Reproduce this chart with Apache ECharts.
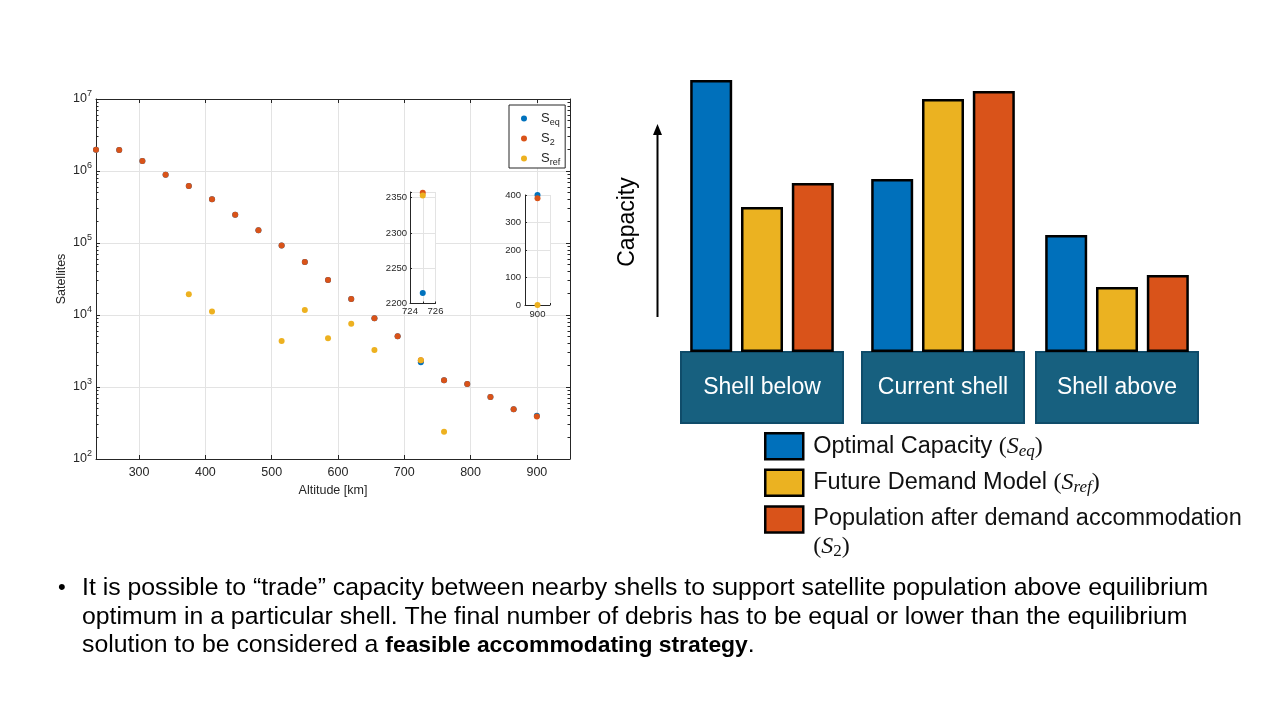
<!DOCTYPE html>
<html>
<head>
    <meta charset="UTF-8">
    <title>Shell capacity trading</title>
    <script src="https://cdn.jsdelivr.net/npm/echarts@6/dist/echarts.min.js"></script>
    <style>
        html, body { margin: 0; padding: 0; background: #fff; }
        #main { width: 1280px; height: 720px; }
    </style>
</head>
<body>
<div id="main"></div>
<script type="text/javascript">
    // shell altitudes [km]
    var altitudes = [235, 270, 305, 340, 375, 410, 445, 480, 515, 550, 585, 620, 655, 690, 725, 760, 795, 830, 865, 900];
    // equilibrium capacity S_eq
    var sEq = [1980000, 1960000, 1380000, 890000, 620000, 405000, 247000, 150000, 92000, 54500, 30600, 16700, 9000, 5060, 2215, 1240, 1100, 726, 490, 400];
    // population after accommodation S_2
    var s2 = [1980000, 1960000, 1380000, 890000, 620000, 405000, 247000, 150000, 92000, 54500, 30600, 16700, 9000, 5060, 2357, 1240, 1100, 726, 490, 388];
    // future demand S_ref (0 = no demand)
    var sRef = [0, 0, 0, 0, 19400, 11200, 0, 0, 4350, 11700, 4750, 7570, 3260, 0, 2353, 239, 0, 0, 0, 0];
    var scatterNames = ['S_eq', 'S_2', 'S_ref'];
    var insetAltitudes = [725, 900];

    // conceptual bar chart
    var shells = ['Shell below', 'Current shell', 'Shell above'];
    var optimalCapacity = [272, 173, 117];
    var futureDemand = [145, 253, 65];
    var afterAccommodation = [169, 261, 77];
    var barNames = ['Optimal Capacity', 'Future Demand Model', 'Population after demand accommodation'];
    // the newline sits inside a rich token so the second line keeps a thin line box
    var barMath = [' {p|(}{m|S}{s|eq}{p|)}', ' {p|(}{m|S}{s|ref}{p|)}', '{p2|\n(}{m2|S}{n2|2}{p2|)}'];

    var bulletLines = [
        'It is possible to \u201ctrade\u201d capacity between nearby shells to support satellite population above equilibrium',
        'optimum in a particular shell. The final number of debris has to be equal or lower than the equilibrium',
        'solution to be considered a {b|feasible accommodating strategy}.'
    ];

    var matlabColors = ['#0072BD', '#D95319', '#EDB120'];
    var barColors = ['#0070BB', '#EBB221', '#D9531A'];
    var axisColor = '#262626';
    var gridColor = '#e3e3e3';
    var sans = "'Liberation Sans', Arial, sans-serif";
    var serif = "'Liberation Serif', 'DejaVu Serif', serif";

    var scatterData = [sEq, s2, sRef];
    var barData = [optimalCapacity, futureDemand, afterAccommodation];

    // minor ticks of the log axis
    var minorTicks = [];
    for (var e = 2; e < 7; e++) {
        for (var k = 2; k <= 9; k++) minorTicks.push(k * Math.pow(10, e));
    }

    function pairs(values, keep) {
        var out = [];
        for (var i = 0; i < altitudes.length; i++) {
            if (keep(altitudes[i], values[i])) out.push([altitudes[i], values[i]]);
        }
        return out;
    }

    var myChart = echarts.init(document.getElementById('main'));

    var series = [];
    // main log plot
    for (var i = 0; i < 3; i++) {
        series.push({
            type: 'scatter', name: scatterNames[i], xAxisIndex: 0, yAxisIndex: 0,
            symbolSize: 6, itemStyle: { color: matlabColors[i], opacity: 1 },
            data: pairs(scatterData[i], function (a, v) { return v > 0; })
        });
    }
    // the two zoomed insets
    for (var n = 0; n < 2; n++) {
        for (var i = 0; i < 3; i++) {
            series.push({
                type: 'scatter', name: scatterNames[i], xAxisIndex: 2 + n, yAxisIndex: 4 + n,
                symbolSize: 6, z: 6, clip: false, itemStyle: { color: matlabColors[i], opacity: 1 },
                data: pairs(scatterData[i], (function (alt) { return function (a) { return a === alt; }; })(insetAltitudes[n]))
            });
        }
    }
    // bars, one grid per shell
    for (var g = 0; g < 3; g++) {
        for (var k = 0; k < 3; k++) {
            series.push({
                type: 'bar', name: barNames[k], xAxisIndex: 4 + g, yAxisIndex: 6 + g,
                barWidth: 42, barGap: '21%',
                itemStyle: { color: barColors[k], borderColor: '#000', borderWidth: 2.5 },
                data: [barData[k][g]]
            });
        }
    }

    var insetAxisBase = {
        type: 'value', z: 5,
        axisLine: { show: true, lineStyle: { color: axisColor } },
        axisTick: { show: true, inside: true, length: 2, lineStyle: { color: axisColor } },
        splitLine: { show: true, lineStyle: { color: gridColor } }
    };

    function barX(g) {
        return {
            gridIndex: 3 + g, type: 'category', data: [shells[g]],
            axisLine: { show: false }, axisTick: { show: false },
            axisLabel: {
                margin: 1, color: '#fff', fontSize: 23, fontFamily: sans,
                backgroundColor: '#17607F', borderColor: '#0F4C6A', borderWidth: 2,
                width: 160, height: 69, lineHeight: 69, align: 'center'
            }
        };
    }
    function barY(g) {
        return { gridIndex: 3 + g, type: 'value', min: 0, max: 300, show: false };
    }

    var option = {
        animation: false,
        grid: [
            { left: 96, top: 99, width: 474, height: 360 },
            { left: 410, top: 192, width: 25.5, height: 111.5, show: true, backgroundColor: '#fff', borderWidth: 0, z: 3 },
            { left: 525, top: 195, width: 25, height: 110, show: true, backgroundColor: '#fff', borderWidth: 0, z: 3 },
            { left: 681, top: 52, width: 162, height: 300 },
            { left: 862, top: 52, width: 162, height: 300 },
            { left: 1036, top: 52, width: 162, height: 300 }
        ],
        xAxis: [
            {
                gridIndex: 0, type: 'value', min: 235, max: 950, minInterval: 100, maxInterval: 100,
                axisLine: { lineStyle: { color: axisColor } },
                axisTick: { inside: true, length: 4, lineStyle: { color: axisColor } },
                axisLabel: { color: axisColor, fontSize: 12.5, fontFamily: sans, margin: 7, showMinLabel: false, showMaxLabel: false },
                splitLine: { show: true, lineStyle: { color: gridColor } },
                name: 'Altitude [km]', nameLocation: 'middle', nameGap: 25,
                nameTextStyle: { color: axisColor, fontSize: 12.5, fontFamily: sans }
            },
            {
                gridIndex: 0, type: 'value', position: 'top', min: 235, max: 950, minInterval: 100, maxInterval: 100,
                axisLine: { lineStyle: { color: axisColor } },
                axisTick: { inside: true, length: 4, lineStyle: { color: axisColor } },
                axisLabel: { show: false }, splitLine: { show: false }
            },
            Object.assign({}, insetAxisBase, {
                gridIndex: 1, min: 724, max: 726, minInterval: 1, maxInterval: 1,
                axisLabel: { color: axisColor, fontSize: 9.5, fontFamily: sans, margin: 3,
                    formatter: function (v) { return v === 725 ? '' : v; } }
            }),
            Object.assign({}, insetAxisBase, {
                gridIndex: 2, min: 899, max: 901, minInterval: 1, maxInterval: 1,
                axisLabel: { color: axisColor, fontSize: 9.5, fontFamily: sans, margin: 4,
                    formatter: function (v) { return v === 900 ? v : ''; } }
            }),
            barX(0), barX(1), barX(2)
        ],
        yAxis: [
            {
                gridIndex: 0, type: 'log', logBase: 10, min: 100, max: 10000000, position: 'left',
                axisLine: { show: true, lineStyle: { color: axisColor } },
                axisTick: { show: true, inside: true, length: 4, lineStyle: { color: axisColor } },
                axisLabel: {
                    color: axisColor, fontSize: 12.5, fontFamily: sans, margin: 4,
                    formatter: function (v) { return '10{sup|' + Math.round(Math.log10(v)) + '}'; },
                    rich: { sup: { fontSize: 9, fontFamily: sans, color: axisColor, padding: [0, 0, 10, 0], lineHeight: 14 } },
                    lineHeight: 14
                },
                splitLine: { show: true, lineStyle: { color: gridColor } },
                name: 'Satellites', nameLocation: 'middle', nameGap: 28,
                nameTextStyle: { color: axisColor, fontSize: 12.5, fontFamily: sans }
            },
            {
                gridIndex: 0, type: 'log', logBase: 10, min: 100, max: 10000000, position: 'left',
                axisLine: { show: false }, axisLabel: { show: false }, splitLine: { show: false },
                axisTick: { show: true, inside: true, length: 2.5, customValues: minorTicks, lineStyle: { color: axisColor } }
            },
            {
                gridIndex: 0, type: 'log', logBase: 10, min: 100, max: 10000000, position: 'right',
                axisLine: { show: true, lineStyle: { color: axisColor } },
                axisTick: { show: true, inside: true, length: 4, lineStyle: { color: axisColor } },
                axisLabel: { show: false }, splitLine: { show: false }
            },
            {
                gridIndex: 0, type: 'log', logBase: 10, min: 100, max: 10000000, position: 'right',
                axisLine: { show: false }, axisLabel: { show: false }, splitLine: { show: false },
                axisTick: { show: true, inside: true, length: 2.5, customValues: minorTicks, lineStyle: { color: axisColor } }
            },
            Object.assign({}, insetAxisBase, {
                gridIndex: 1, min: 2200, max: 2358, minInterval: 50, maxInterval: 50,
                axisLabel: { color: axisColor, fontSize: 9.5, fontFamily: sans, margin: 3,
                    formatter: function (v) { return v % 50 === 0 ? v : ''; } }
            }),
            Object.assign({}, insetAxisBase, {
                gridIndex: 2, min: 0, max: 400, minInterval: 100, maxInterval: 100,
                axisLabel: { color: axisColor, fontSize: 9.5, fontFamily: sans, margin: 4 }
            }),
            barY(0), barY(1), barY(2)
        ],
        legend: [
            {
                data: scatterNames, orient: 'vertical', left: 509, top: 105,
                padding: [5, 5, 1, 12], itemGap: 3, itemWidth: 24, itemHeight: 6, icon: 'circle',
                backgroundColor: '#fff', borderColor: axisColor, borderWidth: 1, borderRadius: 0,
                selectedMode: false,
                formatter: function (name) {
                    var p = name.split('_');
                    return '{m|' + p[0] + '}{s|' + p[1] + '}';
                },
                textStyle: {
                    rich: {
                        m: { fontSize: 13, fontFamily: sans, color: axisColor, lineHeight: 14 },
                        s: { fontSize: 9, fontFamily: sans, color: axisColor, lineHeight: 14, padding: [8, 0, 0, 0] }
                    }
                }
            },
            {
                data: barNames,
                orient: 'vertical', left: 764, top: 432, padding: 0,
                itemGap: 8, itemWidth: 38, itemHeight: 26, icon: 'rect', selectedMode: false,
                itemStyle: { borderColor: '#000', borderWidth: 2.5 },
                formatter: function (name) {
                    return name + barMath[barNames.indexOf(name)];
                },
                textStyle: {
                    fontSize: 23.5, fontFamily: sans, color: '#111', lineHeight: 28, padding: [0, 0, 0, 5],
                    rich: {
                        p: { fontSize: 24, fontFamily: serif, color: '#111', lineHeight: 28 },
                        m: { fontSize: 24, fontFamily: serif, fontStyle: 'italic', color: '#111', lineHeight: 28 },
                        s: { fontSize: 17, fontFamily: serif, fontStyle: 'italic', color: '#111', lineHeight: 28, padding: [10, 0, 0, 0] },
                        // second line of the last entry: thin line box, pushed down by padding
                        p2: { fontSize: 24, fontFamily: serif, color: '#111', lineHeight: 1, padding: [27, 0, 0, 0] },
                        m2: { fontSize: 24, fontFamily: serif, fontStyle: 'italic', color: '#111', lineHeight: 1, padding: [27, 0, 0, 0] },
                        n2: { fontSize: 17, fontFamily: serif, color: '#111', lineHeight: 1, padding: [37, 0, 0, 0] }
                    }
                }
            }
        ],
        graphic: [
            { type: 'line', shape: { x1: 657.5, y1: 317, x2: 657.5, y2: 133 }, style: { stroke: '#000', lineWidth: 2 } },
            { type: 'polygon', shape: { points: [[657.5, 124], [653, 135], [662, 135]] }, style: { fill: '#000' } },
            {
                type: 'text', x: 628, y: 222, rotation: Math.PI / 2,
                style: { text: 'Capacity', fontSize: 23, fontFamily: sans, fill: '#000', align: 'center', verticalAlign: 'middle' }
            },
            {
                type: 'text', x: 58, y: 574,
                style: { text: '\u2022', fontSize: 22, fontFamily: sans, fill: '#000', lineHeight: 28.5, verticalAlign: 'top' }
            },
            {
                type: 'text', x: 82, y: 574,
                style: {
                    text: bulletLines.join('\n'), fontSize: 24.8, fontFamily: sans, fill: '#000',
                    lineHeight: 28.5, verticalAlign: 'top',
                    rich: { b: { fontSize: 22.9, fontFamily: sans, fontWeight: 'bold', fill: '#000', lineHeight: 28.5 } }
                }
            }
        ],
        series: series
    };

    myChart.setOption(option);
</script>
</body>
</html>
